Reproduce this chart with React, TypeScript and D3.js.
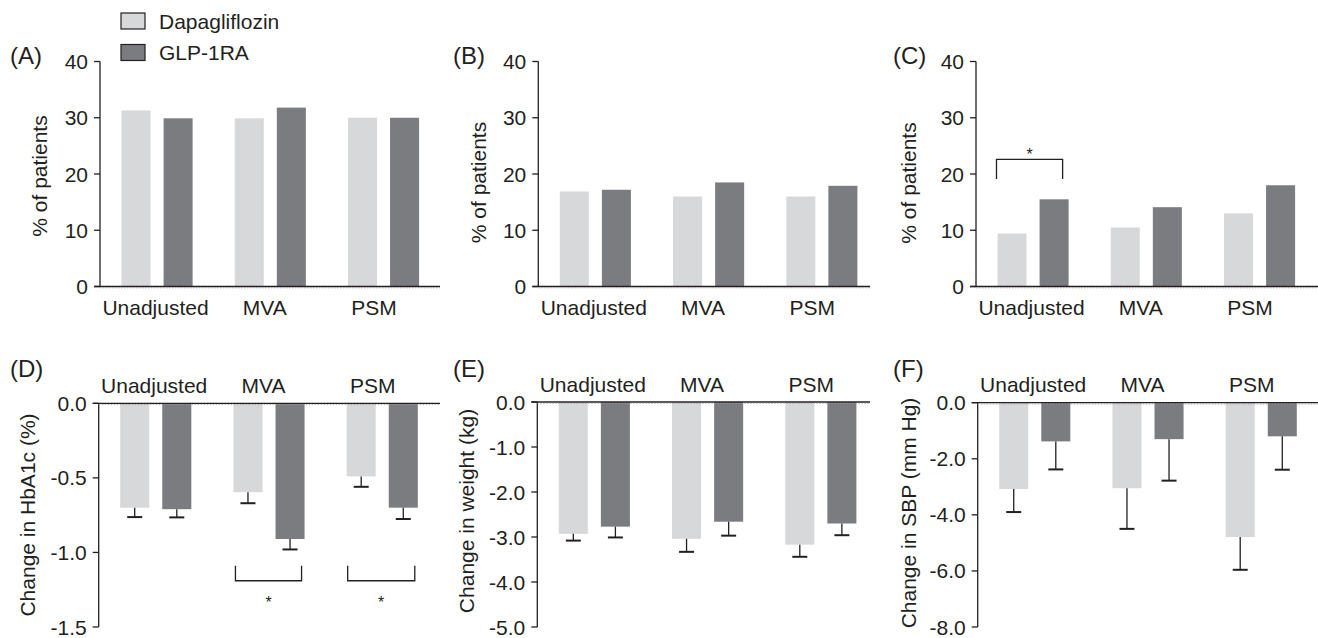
import React from "react";
import * as d3 from "d3";

const categories = ["Unadjusted", "MVA", "PSM"];
const seriesNames = ["Dapagliflozin", "GLP-1RA"];

// Panel A-C: % of patients
const aDapa = [31.3, 29.9, 30.0];
const aGlp = [29.9, 31.8, 30.0];
const bDapa = [16.9, 16.0, 16.0];
const bGlp = [17.2, 18.5, 17.9];
const cDapa = [9.4, 10.5, 13.0];
const cGlp = [15.5, 14.1, 18.0];

// Panel D-F: change from baseline with error (SE)
const dDapa = [-0.7, -0.596, -0.49];
const dDapaErr = [0.063, 0.074, 0.07];
const dGlp = [-0.71, -0.91, -0.7];
const dGlpErr = [0.055, 0.07, 0.076];

const eDapa = [-2.93, -3.04, -3.17];
const eDapaErr = [0.15, 0.29, 0.27];
const eGlp = [-2.77, -2.66, -2.7];
const eGlpErr = [0.24, 0.31, 0.26];

const fDapa = [-3.08, -3.05, -4.79];
const fDapaErr = [0.82, 1.45, 1.17];
const fGlp = [-1.38, -1.3, -1.2];
const fGlpErr = [1.0, 1.48, 1.19];

const topTicks = [0, 10, 20, 30, 40];
const dTicks = [0, -0.5, -1.0, -1.5];
const eTicks = [0, -1, -2, -3, -4, -5];
const fTicks = [0, -2, -4, -6, -8];

const panelLetters = ["(A)", "(B)", "(C)", "(D)", "(E)", "(F)"];
const yTitles = [
  "% of patients",
  "% of patients",
  "% of patients",
  "Change in HbA1c (%)",
  "Change in weight (kg)",
  "Change in SBP (mm Hg)",
];

const LIGHT = "#d7d8da";
const DARK = "#7b7c80";
const INK = "#231f20";
const FONT = "'Liberation Sans', Arial, Helvetica, sans-serif";

type Bracket = { cat: number; lineV: number; endV: number; starV: number; rightInset: number; leftInset: number };

type PanelProps = {
  letter: string;
  yTitle: string;
  axisX: number;
  xEnd: number;
  yDomain: [number, number];
  yRange: [number, number];
  ticks: number[];
  fmt: (v: number) => string;
  dapa: number[];
  glp: number[];
  dapaErr?: number[];
  glpErr?: number[];
  letterPos: [number, number];
  titlePos: [number, number];
  catLabelY: number;
  brackets?: Bracket[];
};

function Panel(p: PanelProps) {
  const y = d3.scaleLinear().domain(p.yDomain).range(p.yRange);
  const y0 = y(0);
  const groupStart = p.axisX + 21.5;
  const x = d3
    .scaleBand<string>()
    .domain(categories)
    .range([groupStart, groupStart + 2 * 113.3 + 71])
    .paddingInner(0.372)
    .paddingOuter(0);
  const sub = d3
    .scaleBand<string>()
    .domain(seriesNames)
    .range([0, x.bandwidth()])
    .paddingInner(0.31)
    .paddingOuter(0);
  const lbl = d3
    .scalePoint<string>()
    .domain(categories)
    .range([p.axisX + 55.5, p.axisX + 274]);
  const bw = sub.bandwidth();
  const series = [
    { name: seriesNames[0], vals: p.dapa, errs: p.dapaErr, color: LIGHT },
    { name: seriesNames[1], vals: p.glp, errs: p.glpErr, color: DARK },
  ];
  const yMin = Math.min(p.yRange[0], p.yRange[1]);
  const yMax = Math.max(p.yRange[0], p.yRange[1]);

  return (
    <g>
      {series.map((s) =>
        categories.map((c, i) => {
          const bx = (x(c) as number) + (sub(s.name) as number);
          const v = s.vals[i];
          const top = Math.min(y(v), y0);
          const h = Math.abs(y(v) - y0);
          return <rect key={s.name + c} x={bx} y={top} width={bw} height={h} fill={s.color} />;
        })
      )}
      {series.map((s) =>
        s.errs
          ? categories.map((c, i) => {
              const cx = (x(c) as number) + (sub(s.name) as number) + bw / 2;
              const v = s.vals[i];
              const e = v - (s.errs as number[])[i];
              return (
                <g key={"e" + s.name + c} stroke={INK}>
                  <line x1={cx} x2={cx} y1={y(v)} y2={y(e)} strokeWidth={1.3} />
                  <line x1={cx - 7.5} x2={cx + 7.5} y1={y(e)} y2={y(e)} strokeWidth={2} />
                </g>
              );
            })
          : null
      )}
      {/* y axis */}
      <line x1={p.axisX} x2={p.axisX} y1={yMin} y2={yMax} stroke={INK} strokeWidth={1.3} />
      {p.ticks.map((t) => (
        <g key={"t" + t}>
          <line x1={p.axisX - 6} x2={p.axisX} y1={y(t)} y2={y(t)} stroke={INK} strokeWidth={1.3} />
          <text
            x={p.axisX - 12}
            y={y(t)}
            dy="0.36em"
            textAnchor="end"
            fontSize={21}
            fontFamily={FONT}
            fill={INK}
          >
            {p.fmt(t)}
          </text>
        </g>
      ))}
      {/* zero / x axis line */}
      <line x1={p.axisX - 6} x2={p.xEnd} y1={y0} y2={y0} stroke={INK} strokeWidth={1.3} />
      <line
        x1={p.axisX}
        x2={p.xEnd}
        y1={y0 + 1.3}
        y2={y0 + 1.3}
        stroke="#999"
        strokeWidth={0.8}
        strokeDasharray="1.5,1.5"
      />
      {/* category labels */}
      {categories.map((c) => (
        <text
          key={"c" + c}
          x={lbl(c)}
          y={p.catLabelY}
          textAnchor="middle"
          fontSize={21}
          fontFamily={FONT}
          fill={INK}
        >
          {c}
        </text>
      ))}
      {/* brackets */}
      {(p.brackets || []).map((b, k) => {
        const c = categories[b.cat];
        const x1 = (x(c) as number) + b.leftInset;
        const x2 = (x(c) as number) + x.bandwidth() - b.rightInset;
        const yl = y(b.lineV);
        const ye = y(b.endV);
        return (
          <g key={"b" + k}>
            <path
              d={`M${x1},${ye}V${yl}H${x2}V${ye}`}
              fill="none"
              stroke={INK}
              strokeWidth={1.3}
            />
            <text
              x={(x1 + x2) / 2}
              y={y(b.starV)}
              dy="0.7em"
              textAnchor="middle"
              fontSize={16}
              fontFamily={FONT}
              fill={INK}
            >
              *
            </text>
          </g>
        );
      })}
      <text x={p.letterPos[0]} y={p.letterPos[1]} fontSize={24} fontFamily={FONT} fill={INK}>
        {p.letter}
      </text>
      <text
        transform={`translate(${p.titlePos[0]},${p.titlePos[1]}) rotate(-90)`}
        textAnchor="middle"
        fontSize={21}
        fontFamily={FONT}
        fill={INK}
      >
        {p.yTitle}
      </text>
    </g>
  );
}

const fmtInt = (v: number) => String(v);
const fmt1 = (v: number) => (v === 0 ? "0.0" : v.toFixed(1));

export default function App() {
  const topY: [number, number] = [286.5, 61.5];
  return (
    <svg
      width={1318}
      height={638}
      style={{ position: "absolute", left: 0, top: 0, background: "#fff" }}
    >
      <rect width={1318} height={638} fill="#fff" />
      {/* legend */}
      {seriesNames.map((s, i) => (
        <g key={s}>
          <rect
            x={121}
            y={13 + i * 31.5}
            width={24}
            height={16}
            fill={i === 0 ? LIGHT : DARK}
            stroke={INK}
            strokeWidth={1.2}
          />
          <text x={159} y={28.5 + i * 31.5} fontSize={21} fontFamily={FONT} fill={INK}>
            {s}
          </text>
        </g>
      ))}
      <Panel
        letter={panelLetters[0]}
        yTitle={yTitles[0]}
        axisX={100}
        xEnd={440}
        yDomain={[0, 40]}
        yRange={topY}
        ticks={topTicks}
        fmt={fmtInt}
        dapa={aDapa}
        glp={aGlp}
        letterPos={[10, 64]}
        titlePos={[47, 176]}
        catLabelY={315}
      />
      <Panel
        letter={panelLetters[1]}
        yTitle={yTitles[1]}
        axisX={538.3}
        xEnd={870}
        yDomain={[0, 40]}
        yRange={topY}
        ticks={topTicks}
        fmt={fmtInt}
        dapa={bDapa}
        glp={bGlp}
        letterPos={[453, 64]}
        titlePos={[485.5, 182.5]}
        catLabelY={315}
      />
      <Panel
        letter={panelLetters[2]}
        yTitle={yTitles[2]}
        axisX={976}
        xEnd={1318}
        yDomain={[0, 40]}
        yRange={topY}
        ticks={topTicks}
        fmt={fmtInt}
        dapa={cDapa}
        glp={cGlp}
        letterPos={[893, 64]}
        titlePos={[915.5, 183]}
        catLabelY={315}
        brackets={[{ cat: 0, lineV: 22.6, endV: 19.1, starV: 24.4, leftInset: -1, rightInset: 6 }]}
      />
      <Panel
        letter={panelLetters[3]}
        yTitle={yTitles[3]}
        axisX={98.7}
        xEnd={440}
        yDomain={[-1.5, 0]}
        yRange={[627, 403.3]}
        ticks={dTicks}
        fmt={fmt1}
        dapa={dDapa}
        glp={dGlp}
        dapaErr={dDapaErr}
        glpErr={dGlpErr}
        letterPos={[10, 377]}
        titlePos={[35, 515]}
        catLabelY={393}
        brackets={[
          { cat: 1, lineV: -1.19, endV: -1.09, starV: -1.3, leftInset: 2, rightInset: 3 },
          { cat: 2, lineV: -1.19, endV: -1.09, starV: -1.3, leftInset: 1, rightInset: 3 },
        ]}
      />
      <Panel
        letter={panelLetters[4]}
        yTitle={yTitles[4]}
        axisX={537.3}
        xEnd={870}
        yDomain={[-5, 0]}
        yRange={[627, 402]}
        ticks={eTicks}
        fmt={fmt1}
        dapa={eDapa}
        glp={eGlp}
        dapaErr={eDapaErr}
        glpErr={eGlpErr}
        letterPos={[453, 377]}
        titlePos={[474, 511]}
        catLabelY={392}
      />
      <Panel
        letter={panelLetters[5]}
        yTitle={yTitles[5]}
        axisX={977.7}
        xEnd={1318}
        yDomain={[-8, 0]}
        yRange={[627, 402.7]}
        ticks={fTicks}
        fmt={fmt1}
        dapa={fDapa}
        glp={fGlp}
        dapaErr={fDapaErr}
        glpErr={fGlpErr}
        letterPos={[893, 377]}
        titlePos={[915.5, 513]}
        catLabelY={392}
      />
    </svg>
  );
}
